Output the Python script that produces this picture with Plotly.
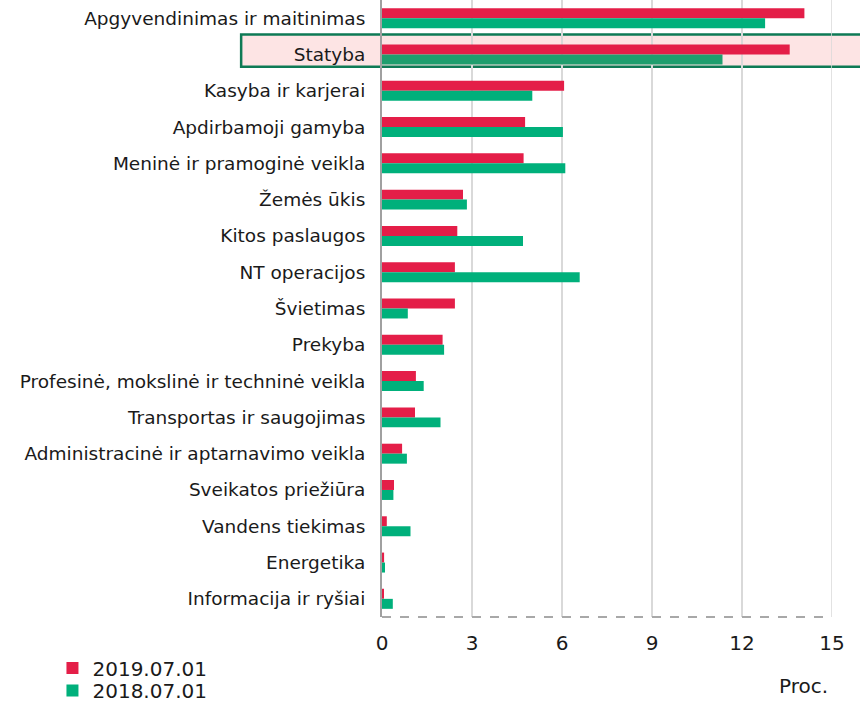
import plotly.graph_objects as go

categories = [
    "Apgyvendinimas ir maitinimas",
    "Statyba",
    "Kasyba ir karjerai",
    "Apdirbamoji gamyba",
    "Meninė ir pramoginė veikla",
    "Žemės ūkis",
    "Kitos paslaugos",
    "NT operacijos",
    "Švietimas",
    "Prekyba",
    "Profesinė, mokslinė ir techninė veikla",
    "Transportas ir saugojimas",
    "Administracinė ir aptarnavimo veikla",
    "Sveikatos priežiūra",
    "Vandens tiekimas",
    "Energetika",
    "Informacija ir ryšiai",
]
values_2019 = [14.08, 13.59, 6.07, 4.77, 4.72, 2.70, 2.51, 2.43, 2.43, 2.02,
               1.13, 1.10, 0.67, 0.40, 0.16, 0.07, 0.04]
values_2018 = [12.77, 11.35, 5.01, 6.03, 6.11, 2.83, 4.70, 6.59, 0.86, 2.07,
               1.39, 1.95, 0.83, 0.38, 0.95, 0.10, 0.36]
series_names = ["2019.07.01", "2018.07.01"]
x_ticks = [0, 3, 6, 9, 12, 15]
highlight = "Statyba"

RED = "#e41e48"
GREEN = "#00b07b"
GREEN_HL = "#1f9e6e"

green_colors = [GREEN_HL if c == highlight else GREEN for c in categories]

fig = go.Figure()
fig.add_trace(go.Bar(
    y=categories, x=values_2019, orientation="h", name=series_names[0],
    marker=dict(color=RED, line=dict(width=0)), legend="legend",
))
fig.add_trace(go.Bar(
    y=categories, x=values_2018, orientation="h", name=series_names[1],
    marker=dict(color=green_colors, line=dict(width=0)), legend="legend2",
))

hl_idx = categories.index(highlight)
# highlight box around the Statyba row
fig.add_shape(
    type="rect", xref="paper", yref="y",
    x0=-0.313, x1=1.08, y0=hl_idx - 0.55, y1=hl_idx + 0.34,
    fillcolor="#fde4e4", line=dict(color="#0e7a55", width=2.5),
    layer="below",
)
# dashed bottom baseline
fig.add_shape(
    type="line", xref="paper", yref="paper",
    x0=0, x1=1, y0=0, y1=0,
    line=dict(color="#a8a8a8", width=2, dash="dash"),
)
# gridline at the right edge (x = 15)
fig.add_shape(
    type="line", xref="x", yref="paper",
    x0=x_ticks[-1], x1=x_ticks[-1], y0=0, y1=1,
    line=dict(color="#d9d9d9", width=1.5), layer="below",
)

fig.add_annotation(
    text="Proc.", xref="paper", yref="paper", x=1, y=-0.112,
    xanchor="right", yanchor="middle", showarrow=False, xshift=-2,
    font=dict(size=20, color="#1a1a1a"),
)

legend_common = dict(
    xref="container", yref="container", xanchor="left", yanchor="middle",
    orientation="v", font=dict(size=20, color="#1a1a1a"),
    bgcolor="rgba(0,0,0,0)", itemwidth=30,
)

fig.update_layout(
    width=860, height=702,
    margin=dict(l=382, r=28, t=0, b=85, autoexpand=False),
    paper_bgcolor="white", plot_bgcolor="rgba(0,0,0,0)",
    font=dict(family="DejaVu Sans, Verdana, sans-serif", color="#1a1a1a"),
    barmode="group", bargap=0.45, bargroupgap=0,
    showlegend=True,
    legend=dict(x=0.061, y=1 - 668 / 702, **legend_common),
    legend2=dict(x=0.061, y=1 - 690.5 / 702, **legend_common),
    xaxis=dict(
        range=[0, 15], tickvals=x_ticks, ticktext=[str(t) for t in x_ticks],
        showgrid=True, gridcolor="#d9d9d9", gridwidth=1.5,
        zeroline=False, showline=False, ticks="", automargin=False,
        tickfont=dict(size=20, color="#1a1a1a"), ticklabelstandoff=12,
        fixedrange=True,
    ),
    yaxis=dict(
        autorange="reversed", showgrid=False, zeroline=False,
        showline=True, linecolor="#a0a0a0", linewidth=2, automargin=False,
        ticks="", tickfont=dict(size=18.5, color="#1a1a1a"),
        ticklabelstandoff=11, fixedrange=True,
    ),
)

fig.write_html(
    "out.html",
    config={"displayModeBar": False},
    post_script="document.body.style.margin='0';document.body.style.overflow='hidden';",
)
